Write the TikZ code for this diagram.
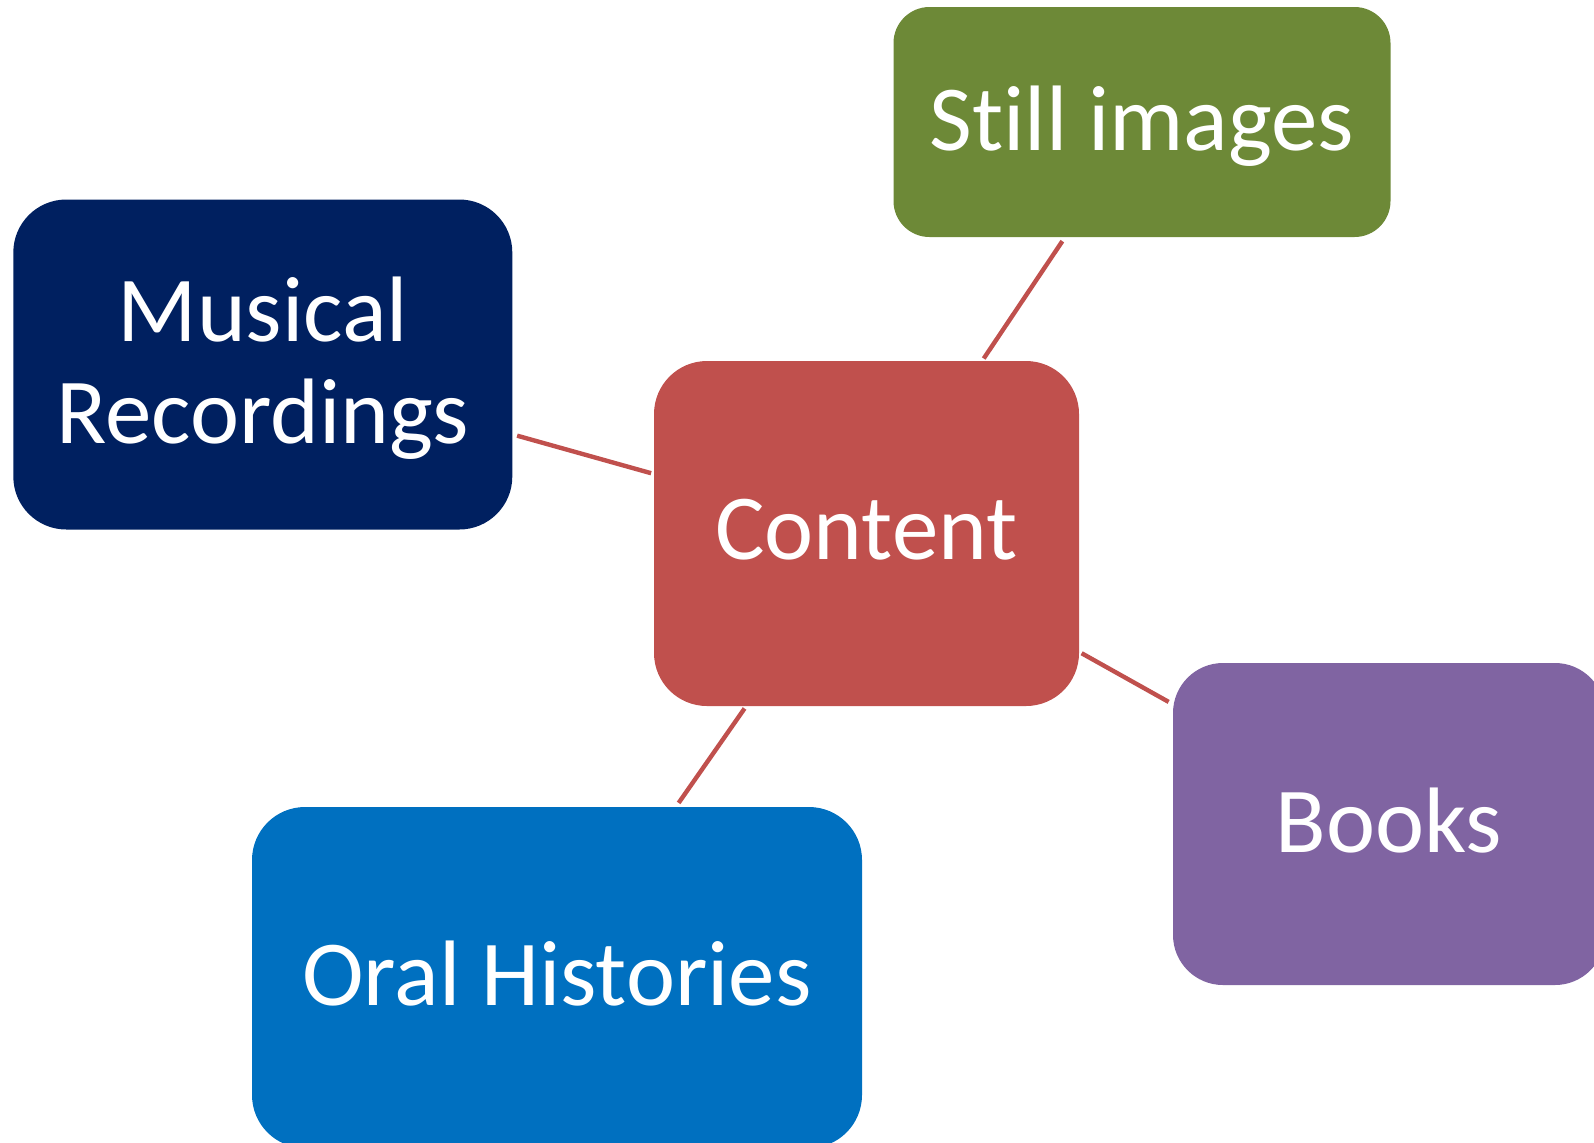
\documentclass[tikz,border=0pt]{standalone}
\usepackage{fontspec}
\setmainfont{Carlito}[Ligatures={NoCommon,NoContextual}]
\definecolor{contentred}{HTML}{C0504D}
\definecolor{stillgreen}{HTML}{6D8937}
\definecolor{musicalblue}{HTML}{002060}
\definecolor{bookspurple}{HTML}{8064A2}
\definecolor{oralblue}{HTML}{0070C0}

\begin{document}
\begin{tikzpicture}[x=0.5pt,y=-0.5pt]
            \tikzstyle{box}=[rectangle, rounded corners=26.5pt, inner sep=0pt, outer sep=0pt, text=white, align=center, text depth=4pt, font=\fontsize{46.5}{51}\selectfont]
            \tikzstyle{link}=[draw=contentred, line width=2.2pt, shorten <=1.5pt, shorten >=2.5pt]
            \clip (0,0) rectangle (1594,1142);

            \node[box, fill=contentred,  minimum width=212.5pt, minimum height=172.5pt]                     (content) at (866.5,533.5) {Content};
            \node[box, fill=stillgreen,  minimum width=248.5pt, minimum height=115pt, rounded corners=18pt] (still)   at (1142,122)    {Still images};
            \node[box, fill=musicalblue, minimum width=249.5pt, minimum height=165pt]                       (musical) at (262.8,364.5) {Musical\\Recordings};
            \node[box, fill=bookspurple, minimum width=216pt,   minimum height=161pt, rounded corners=25pt] (books)   at (1389,824)    {Books};
            \node[box, fill=oralblue,    minimum width=305pt,   minimum height=170.5pt]                     (oral)    at (557,977.5)   {Oral Histories};

            \path[link]
            (content) edge (still)
            (content) edge (musical)
            (content) edge (books)
            (content) edge (oral)
            ;
        \end{tikzpicture}
\end{document}
